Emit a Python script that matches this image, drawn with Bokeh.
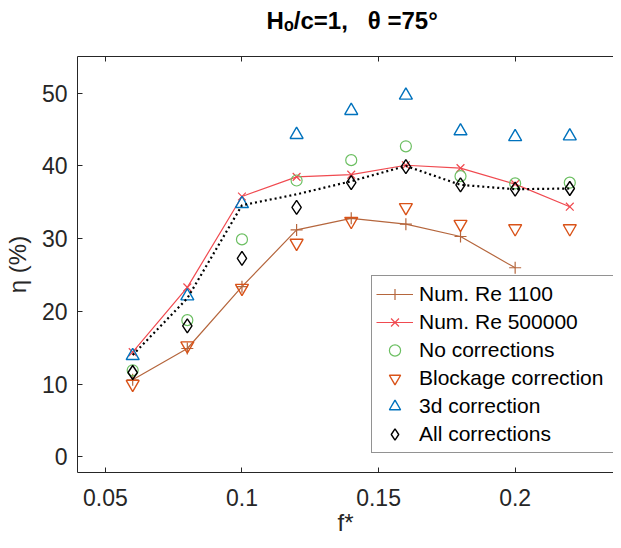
from bokeh.plotting import figure
from bokeh.models import Range1d, FixedTicker, LinearAxis, Legend, LegendItem
from bokeh.embed import file_html
from bokeh.resources import INLINE

# ---------------- data ----------------
f_star = [0.06, 0.08, 0.10, 0.12, 0.14, 0.16, 0.18, 0.20, 0.22]
f_re1100 = [0.06, 0.08, 0.10, 0.12, 0.14, 0.16, 0.18, 0.20]
eta_re1100 = [10.6, 14.9, 23.4, 31.2, 32.8, 32.0, 30.3, 26.0]
eta_re500000 = [14.4, 23.3, 35.8, 38.5, 38.8, 40.1, 39.7, 37.5, 34.4]
eta_no_corr = [11.9, 18.8, 29.9, 38.0, 40.8, 42.7, 38.6, 37.6, 37.7]
eta_blockage = [10.0, 15.3, 23.2, 29.4, 32.4, 34.3, 32.0, 31.4, 31.4]
eta_3d = [13.9, 22.1, 34.8, 44.3, 47.6, 49.7, 44.8, 44.0, 44.1]
eta_all = [11.6, 18.0, 27.3, 34.3, 37.7, 39.9, 37.4, 36.8, 36.9]
eta_dotted = [14.0, 21.8, 34.6, 36.1, 37.9, 40.0, 37.4, 36.8, 36.9]

x_ticks = [0.05, 0.10, 0.15, 0.20]
x_tick_labels = ["0.05", "0.1", "0.15", "0.2"]
y_ticks = [0, 10, 20, 30, 40, 50]
y_tick_labels = ["0", "10", "20", "30", "40", "50"]

legend_labels = ["Num. Re 1100", "Num. Re 500000", "No corrections",
                 "Blockage correction", "3d correction", "All corrections"]

title_text = "\u00a0\u00a0Hₒ/c=1,\u00a0\u00a0\u00a0θ\u00a0=75°"
x_label = "f*"
y_label = "η (%)"

# ---------------- style ----------------
FONT = "Liberation Sans"
AX = "#262626"
C_RE1100 = "#b5663d"
C_RE500K = "#f04a50"
C_GREEN = "#6cbf62"
C_ORANGE = "#d95319"
C_BLUE = "#0072bd"

X0, X1 = 0.0398, 0.2360
Y0, Y1 = -2.15, 55.05

p = figure(width=613, height=540, output_backend="svg", toolbar_location=None,
           x_range=Range1d(X0, X1), y_range=Range1d(Y0, Y1),
           min_border_left=69, min_border_right=0, min_border_top=56,
           min_border_bottom=68)
p.outline_line_color = None
p.grid.visible = False
p.background_fill_color = "white"
p.border_fill_color = "white"


def style_axis(ax, label_size="23px"):
    ax.axis_line_color = AX
    ax.axis_line_width = 1
    ax.major_tick_line_color = AX
    ax.major_tick_in = 5
    ax.major_tick_out = 0
    ax.minor_tick_line_color = None
    ax.major_label_text_font = FONT
    ax.major_label_text_font_size = label_size
    ax.major_label_text_color = AX
    ax.axis_label_text_font = FONT
    ax.axis_label_text_font_style = "normal"
    ax.axis_label_text_font_size = "24px"
    ax.axis_label_text_color = AX


xax = p.xaxis[0]
style_axis(xax)
xax.ticker = FixedTicker(ticks=x_ticks)
xax.major_label_overrides = {t: l for t, l in zip(x_ticks, x_tick_labels)}
xax.major_label_standoff = 16
xax.axis_label = x_label
xax.axis_label_standoff = 0

yax = p.yaxis[0]
style_axis(yax)
yax.ticker = FixedTicker(ticks=y_ticks)
yax.major_label_overrides = {t: l for t, l in zip(y_ticks, y_tick_labels)}
yax.major_label_standoff = 10
yax.axis_label = y_label
yax.axis_label_standoff = 8

# top frame line with inward ticks; it also carries the chart title
top_ax = LinearAxis(ticker=FixedTicker(ticks=x_ticks))
style_axis(top_ax, label_size="0px")
top_ax.major_label_text_color = None
top_ax.major_label_standoff = 0
top_ax.axis_label = title_text
top_ax.axis_label_text_font_style = "bold"
top_ax.axis_label_text_color = "black"
top_ax.axis_label_text_font_size = "24px"
top_ax.axis_label_standoff = 23
p.add_layout(top_ax, "above")

# ---------------- glyphs ----------------
l1 = p.line(f_re1100, eta_re1100, line_color=C_RE1100, line_width=1.2)
s1 = p.scatter(f_re1100, eta_re1100, marker="cross", size=12,
               line_color=C_RE1100, line_width=1.2)
l2 = p.line(f_star, eta_re500000, line_color=C_RE500K, line_width=1.2)
s2 = p.scatter(f_star, eta_re500000, marker="x", size=11,
               line_color=C_RE500K, line_width=1.2)
s3 = p.scatter(f_star, eta_no_corr, marker="circle", size=11,
               line_color=C_GREEN, fill_color=None, line_width=1.2)
s4 = p.scatter(f_star, eta_blockage, marker="inverted_triangle", size=13,
               line_color=C_ORANGE, fill_color=None, line_width=1.4)
s5 = p.scatter(f_star, eta_3d, marker="triangle", size=13,
               line_color=C_BLUE, fill_color=None, line_width=1.4)
p.line(f_star, eta_dotted, line_color="black", line_width=2.2, line_dash="2 3")
s6 = p.scatter(f_star, eta_all, marker="diamond", size=14,
               line_color="black", fill_color=None, line_width=1.4)

legend = Legend(items=[
    LegendItem(label=legend_labels[0], renderers=[l1, s1]),
    LegendItem(label=legend_labels[1], renderers=[l2, s2]),
    LegendItem(label=legend_labels[2], renderers=[s3]),
    LegendItem(label=legend_labels[3], renderers=[s4]),
    LegendItem(label=legend_labels[4], renderers=[s5]),
    LegendItem(label=legend_labels[5], renderers=[s6]),
], location=(294, 19))
legend.border_line_color = AX
legend.border_line_width = 1
legend.background_fill_color = "white"
legend.background_fill_alpha = 1
legend.padding = 4
legend.spacing = 0
legend.margin = 0
legend.label_height = 28
legend.glyph_height = 28
legend.glyph_width = 37
legend.label_standoff = 6
legend.label_width = 191
legend.label_text_font = FONT
legend.label_text_font_size = "21px"
legend.label_text_color = "black"
p.add_layout(legend, "center")

open("out.html", "w").write(file_html(p, INLINE))
